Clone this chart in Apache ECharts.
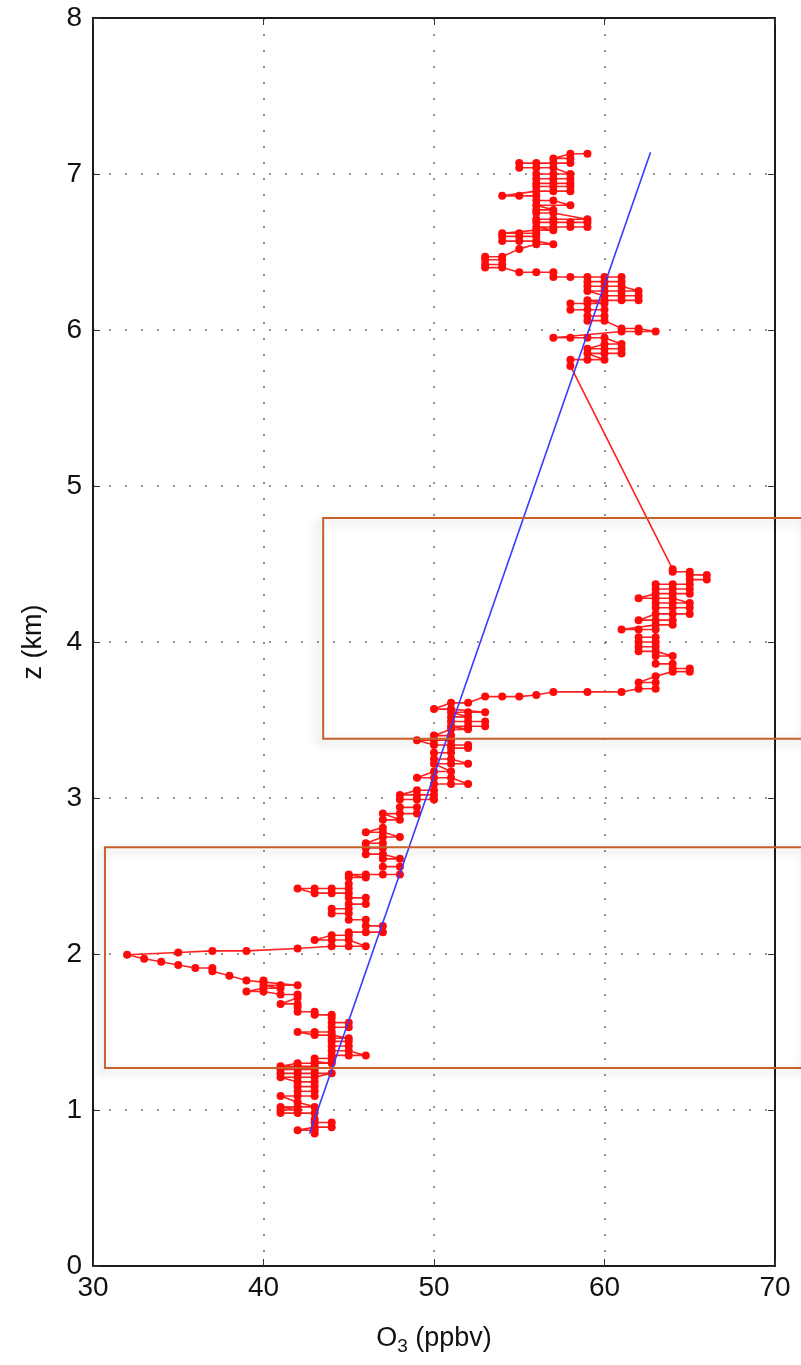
<!DOCTYPE html>
<html>
<head>
<meta charset="utf-8">
<title>Ozone profile</title>
<script src="https://cdn.jsdelivr.net/npm/echarts@6/dist/echarts.min.js"></script>
<style>
  html, body { margin: 0; padding: 0; background: #ffffff; }
  #chart { width: 801px; height: 1365px; }
</style>
</head>
<body>
<div id="chart"></div>
<script>
// Ozonesonde profile: altitude levels (km) and the ozone readings (ppbv) logged at each level
const levelAltitude = [
  0.85, 0.87, 0.89, 0.92, 0.94, 0.98, 1.00, 1.02, 1.05, 1.09,
  1.12, 1.15, 1.18, 1.21, 1.235, 1.26, 1.28, 1.30, 1.31, 1.33,
  1.35, 1.38, 1.41, 1.44, 1.46, 1.48, 1.50, 1.53, 1.56, 1.59,
  1.61, 1.63, 1.66, 1.68, 1.72, 1.74, 1.76, 1.78, 1.80, 1.82,
  1.83, 1.86, 1.89, 1.91, 1.93, 1.95, 1.97, 1.995, 2.01, 2.02,
  2.035, 2.05, 2.09, 2.12, 2.14, 2.18, 2.22, 2.26, 2.29, 2.32,
  2.36, 2.39, 2.42, 2.45, 2.49, 2.51, 2.56, 2.61, 2.64, 2.68,
  2.71, 2.75, 2.78, 2.81, 2.86, 2.90, 2.94, 2.99, 3.02, 3.05,
  3.09, 3.13, 3.17, 3.22, 3.25, 3.29, 3.32, 3.34, 3.37, 3.40,
  3.44, 3.46, 3.49, 3.52, 3.55, 3.57, 3.61, 3.65, 3.66, 3.68,
  3.70, 3.74, 3.78, 3.81, 3.83, 3.86, 3.91, 3.94, 3.97, 4.00,
  4.03, 4.08, 4.11, 4.14, 4.18, 4.22, 4.25, 4.28, 4.31, 4.34,
  4.37, 4.40, 4.43, 4.45, 4.466,
  5.77, 5.81, 5.85, 5.88, 5.91, 5.95, 5.99, 6.01, 6.06, 6.09,
  6.13, 6.17, 6.19, 6.22, 6.25, 6.28, 6.31, 6.34, 6.37, 6.40,
  6.42, 6.45, 6.47, 6.52, 6.55, 6.57, 6.60, 6.62, 6.64, 6.66,
  6.69, 6.71, 6.75, 6.77, 6.80, 6.83, 6.86, 6.89, 6.92, 6.94,
  6.97, 7.00, 7.04, 7.07, 7.10, 7.13
];

const levelOzone = [
  [43], [42, 43], [43, 44], [43, 44], [43], [41, 42, 43], [41, 42], [41, 42, 43], [42], [41, 42, 43],
  [42, 43], [42, 43], [42, 43], [41, 42, 43], [41, 42, 43, 44], [41, 42, 43], [41, 42, 43], [42, 43, 44], [43, 44], [43, 44],
  [44, 45, 46], [44, 45], [44, 45], [44, 45], [44, 45], [43, 44], [42, 43, 44], [44, 45], [44, 45], [44],
  [43, 44], [42, 43], [42], [41, 42], [42], [41, 42], [39, 40], [40, 41], [40, 41, 42], [40],
  [39, 40], [38], [37], [36, 37], [35], [34], [33], [32], [35], [37, 39],
  [42], [44, 45, 46], [43, 44, 45], [44, 45], [45, 46, 47], [46, 47], [45, 46], [44, 45], [44, 45], [45, 46],
  [45, 46], [43, 44, 45], [42, 43, 44, 45], [45], [45, 46], [45, 46, 47, 48], [47, 48], [47, 48], [46, 47], [46, 47],
  [46, 47], [47, 48], [46, 47], [47], [47, 48], [47, 48, 49], [48, 49], [48, 49, 50], [48, 49, 50], [49, 50],
  [50, 51, 52], [49, 50, 51], [50, 51], [50, 51, 52], [50, 51], [50, 51], [51, 52], [50, 51, 52], [49, 50, 51], [50, 51],
  [51, 52], [51, 52, 53], [51, 52, 53], [51, 52], [51, 52, 53], [50, 51], [51, 52], [53, 54, 55], [56], [57, 59, 61],
  [62, 63], [62, 63], [63], [64, 65], [64, 65], [63, 64], [63, 64], [62, 63], [62, 63], [62, 63],
  [62, 63], [61, 62, 63], [63, 64], [62, 63, 64], [63, 64, 65], [63, 64, 65], [63, 64, 65], [62, 63, 64], [63, 64, 65], [63, 64, 65],
  [63, 64, 65], [65, 66], [65, 66], [64, 65], [64],
  [58], [58, 59, 60], [59, 60, 61], [59, 60, 61], [60, 61], [57, 58, 59, 60], [61, 62, 63], [61, 62], [59, 60], [59, 60],
  [58, 59, 60], [58, 59, 60], [59, 60, 61, 62], [60, 61, 62], [59, 60, 61, 62], [59, 60, 61], [59, 60, 61], [57, 58, 59, 60, 61], [55, 56, 57], [53, 54],
  [53, 54], [53, 54], [53, 54], [55], [56, 57], [54, 55, 56], [54, 55, 56], [54, 55, 56], [56, 57], [56, 57, 58, 59],
  [56, 57, 58, 59], [56, 57, 59], [56, 57], [56, 57], [56, 58], [56, 57], [54, 55, 56], [56, 57, 58], [56, 57, 58], [56, 57, 58],
  [56, 57, 58], [56, 57, 58], [55, 56, 57], [55, 56, 57, 58], [57, 58], [58, 59]
];

// Linear trend through the profile (ozone, altitude at each end)
const trendOzone = [42.7, 62.7];
const trendAltitude = [0.85, 7.14];

// Highlighted layers: [ozone from, ozone to, altitude from, altitude to]
const layerBoxes = [
  [43.5, 72, 3.38, 4.795],
  [30.7, 72, 1.27, 2.685]
];

// Tick values
const ozoneTicks = [30, 40, 50, 60, 70];
const altitudeTicks = [0, 1, 2, 3, 4, 5, 6, 7, 8];

// Walk the levels upward; at each level the readings are visited starting
// from the end nearest the previous reading, as the sonde trace does.
const profile = [];
let last = null;
levelAltitude.forEach((z, i) => {
  let vals = levelOzone[i].slice();
  if (last !== null && Math.abs(vals[vals.length - 1] - last) < Math.abs(vals[0] - last)) {
    vals.reverse();
  }
  vals.forEach(v => profile.push([v, z]));
  last = vals[vals.length - 1];
});

const FONT = '"Liberation Sans", Arial, Helvetica, sans-serif';
const chart = echarts.init(document.getElementById('chart'), null, { renderer: 'canvas' });

const baseAxis = {
  type: 'value',
  axisLine: { show: true, onZero: false, lineStyle: { color: '#1a1a1a', width: 2 } },
  axisTick: { show: true, inside: true, length: 7, lineStyle: { color: '#333', width: 1 } },
  minorTick: { show: false },
  splitLine: { show: false }
};

const gridLine = { show: true, lineStyle: { color: '#6e6e6e', width: 1.5, type: [2, 14] } };

chart.setOption({
  animation: false,
  backgroundColor: '#ffffff',
  grid: { left: 93, right: 26, top: 18, bottom: 99, containLabel: false },
  xAxis: [
    Object.assign({}, baseAxis, {
      min: ozoneTicks[0], max: ozoneTicks[ozoneTicks.length - 1], interval: 10,
      position: 'bottom',
      axisLabel: { show: true, color: '#111', fontSize: 28, fontFamily: FONT, margin: 8 },
      splitLine: gridLine,
      name: '{o|O}{s|3}{o| (ppbv)}',
      nameLocation: 'middle',
      nameGap: 56,
      nameTextStyle: {
        color: '#111', fontFamily: FONT,
        rich: {
          o: { fontSize: 27, fontFamily: FONT, color: '#111', lineHeight: 34 },
          s: { fontSize: 19, fontFamily: FONT, color: '#111', lineHeight: 34, padding: [16, 0, 0, 0] }
        }
      }
    }),
    Object.assign({}, baseAxis, {
      min: ozoneTicks[0], max: ozoneTicks[ozoneTicks.length - 1], interval: 10,
      position: 'top',
      axisLabel: { show: false }
    })
  ],
  yAxis: [
    Object.assign({}, baseAxis, {
      min: altitudeTicks[0], max: altitudeTicks[altitudeTicks.length - 1], interval: 1,
      position: 'left',
      axisLabel: { show: true, color: '#111', fontSize: 28, fontFamily: FONT, margin: 11 },
      splitLine: gridLine,
      name: 'z (km)',
      nameLocation: 'middle',
      nameRotate: 90,
      nameGap: 46,
      nameTextStyle: { color: '#111', fontSize: 27, fontFamily: FONT }
    }),
    Object.assign({}, baseAxis, {
      min: altitudeTicks[0], max: altitudeTicks[altitudeTicks.length - 1], interval: 1,
      position: 'right',
      axisLabel: { show: false }
    })
  ],
  series: [
    {
      name: 'O3 profile',
      type: 'line',
      xAxisIndex: 0, yAxisIndex: 0,
      data: profile,
      symbol: 'circle',
      symbolSize: 8,
      showAllSymbol: true,
      itemStyle: { color: '#ff0a0a' },
      lineStyle: { color: '#ff2020', width: 1.6 },
      z: 3
    },
    {
      name: 'Trend',
      type: 'line',
      xAxisIndex: 0, yAxisIndex: 0,
      data: trendOzone.map((v, i) => [v, trendAltitude[i]]),
      symbol: 'none',
      lineStyle: { color: '#3a3aff', width: 1.6 },
      z: 4
    },
    {
      name: 'Layers',
      type: 'custom',
      xAxisIndex: 0, yAxisIndex: 0,
      clip: false,
      data: layerBoxes,
      encode: { x: [0, 1], y: [2, 3] },
      renderItem: function (params, api) {
        const p0 = api.coord([api.value(0), api.value(3)]);
        const p1 = api.coord([api.value(1), api.value(2)]);
        return {
          type: 'rect',
          shape: { x: p0[0], y: p0[1], width: p1[0] - p0[0], height: p1[1] - p0[1] },
          style: {
            fill: 'none',
            stroke: '#c8602c',
            lineWidth: 2,
            shadowBlur: 10,
            shadowColor: 'rgba(0,0,0,0.22)',
            shadowOffsetX: -5,
            shadowOffsetY: 4
          },
          z2: 10
        };
      },
      z: 5
    }
  ]
});
</script>
</body>
</html>
